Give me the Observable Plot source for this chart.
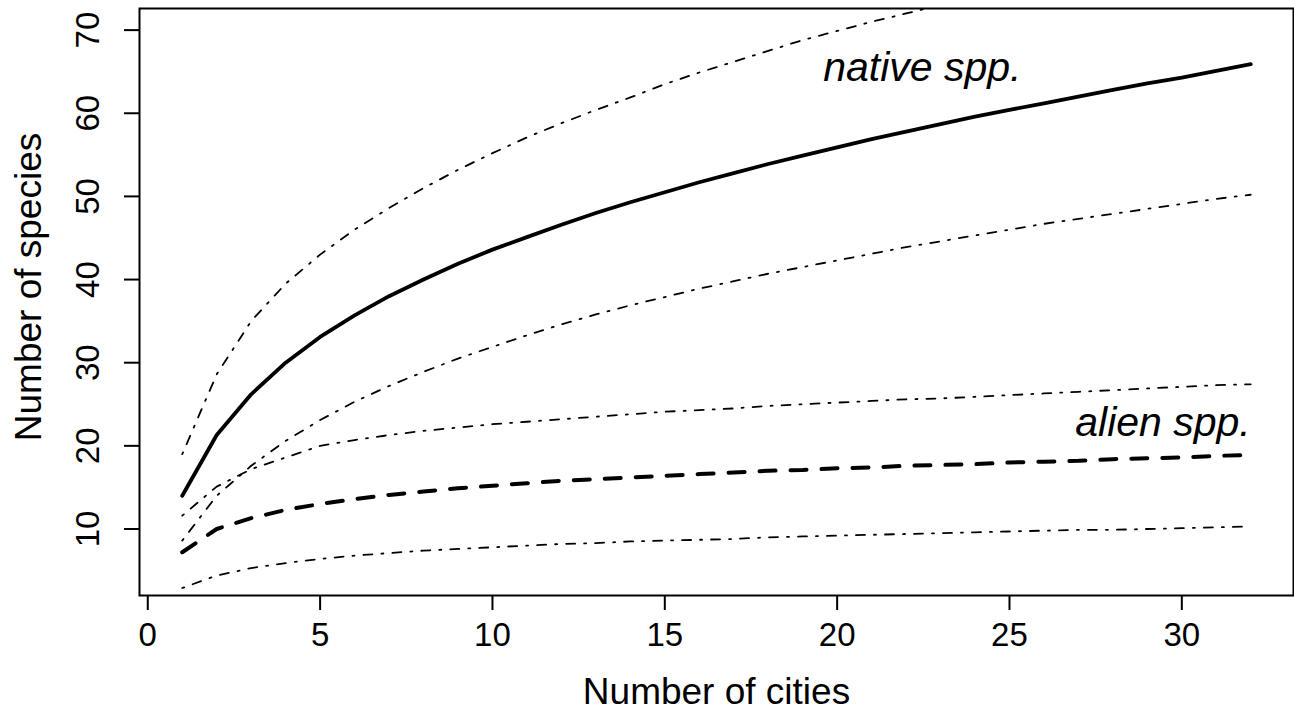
<!DOCTYPE html>
<html>
<head>
<meta charset="utf-8">
<script src="https://cdn.jsdelivr.net/npm/d3@7"></script>
<script src="https://cdn.jsdelivr.net/npm/@observablehq/plot@0.6"></script>
<style>
  html, body { margin: 0; padding: 0; background: #fff; }
  #chart svg { display: block; }
</style>
</head>
<body>
<div id="chart"></div>
<script>
// Number of cities (x)
const cities = [1,2,3,4,5,6,7,8,9,10,11,12,13,14,15,16,17,18,19,20,21,22,23,24,25,26,27,28,29,30,31,32];

// Native species: mean and confidence bounds
const nativeMean  = [14.0,21.3,26.2,30.0,33.1,35.7,38.0,40.0,41.9,43.6,45.1,46.6,48.0,49.3,50.5,51.7,52.8,53.9,54.9,55.9,56.9,57.8,58.7,59.6,60.4,61.2,62.0,62.8,63.6,64.3,65.1,65.9];
const nativeUpper = [19.0,28.6,35.0,39.5,43.0,46.0,48.6,51.0,53.2,55.2,57.1,58.8,60.4,61.9,63.5,64.9,66.2,67.5,68.8,69.9,71.0,72.0,73.0,74.0];
const nativeLower = [8.6,14.0,17.6,20.6,23.1,25.3,27.2,28.9,30.5,31.9,33.3,34.6,35.8,36.9,37.9,38.9,39.8,40.7,41.5,42.3,43.1,43.9,44.6,45.3,46.0,46.7,47.3,47.9,48.5,49.1,49.7,50.2];

// Alien species: mean and confidence bounds
const alienMean  = [7.2,10.0,11.3,12.3,13.0,13.6,14.1,14.5,14.9,15.2,15.5,15.8,16.0,16.2,16.4,16.6,16.8,17.0,17.1,17.3,17.4,17.6,17.7,17.8,18.0,18.1,18.2,18.4,18.5,18.6,18.8,18.9];
const alienUpper = [11.6,15.1,17.2,18.6,20.0,20.7,21.3,21.8,22.2,22.6,22.9,23.2,23.5,23.8,24.1,24.3,24.5,24.8,25.0,25.2,25.4,25.6,25.7,25.9,26.1,26.3,26.5,26.7,26.9,27.1,27.3,27.4];
const alienLower = [2.9,4.4,5.3,5.9,6.4,6.8,7.1,7.4,7.6,7.8,8.0,8.2,8.3,8.5,8.6,8.7,8.8,9.0,9.1,9.2,9.3,9.4,9.5,9.6,9.7,9.8,9.9,9.9,10.0,10.1,10.2,10.3];

// Tick values
const xTicks = [0,5,10,15,20,25,30];
const yTicks = [10,20,30,40,50,60,70];

const toRows = (vals) => vals.map((v, i) => ({x: cities[i], y: v}));

const nativeLabel = [{text: "native spp.", x: 22.47, y: 63.9}];
const alienLabel  = [{text: "alien spp.",  x: 32.0,  y: 21.2}];

const font = "'Liberation Sans', Arial, Helvetica, sans-serif";
const dotdash = "2,9,9,9";
const ciStyle = {x: "x", y: "y", stroke: "black", strokeWidth: 1.8, strokeDasharray: dotdash, strokeLinecap: "round", clip: true};

const chart = Plot.plot({
  width: 1294,
  height: 712,
  marginLeft: 139,
  marginRight: 1,
  marginTop: 8,
  marginBottom: 117,
  style: {fontFamily: font, background: "white", color: "black"},
  x: {domain: [-0.24, 33.24]},
  y: {domain: [2.0, 72.6]},
  marks: [
    Plot.line(toRows(nativeUpper), ciStyle),
    Plot.line(toRows(nativeLower), ciStyle),
    Plot.line(toRows(alienUpper), ciStyle),
    Plot.line(toRows(alienLower), ciStyle),
    Plot.line(toRows(nativeMean), {x: "x", y: "y", stroke: "black", strokeWidth: 3.8, clip: true}),
    Plot.line(toRows(alienMean), {x: "x", y: "y", stroke: "black", strokeWidth: 4, strokeDasharray: "16,15", strokeLinecap: "round", clip: true}),
    Plot.text(nativeLabel, {x: "x", y: "y", text: "text", textAnchor: "middle", lineAnchor: "bottom", fontSize: 41, fontStyle: "italic", fill: "black"}),
    Plot.text(alienLabel, {x: "x", y: "y", text: "text", textAnchor: "end", lineAnchor: "bottom", fontSize: 41, fontStyle: "italic", fill: "black"}),
    Plot.frame({stroke: "black", strokeWidth: 2}),
    Plot.axisX(xTicks, {tickSize: 15, tickPadding: 12, fontSize: 33, label: null, strokeWidth: 2}),
    Plot.axisY(yTicks, {tickSize: 15, tickPadding: 26, tickRotate: -90, fontSize: 33, label: null, strokeWidth: 2}),
    Plot.text(["Number of cities"], {frameAnchor: "bottom", dy: 108, lineAnchor: "bottom", fontSize: 37, fill: "black"}),
    Plot.text(["Number of species"], {frameAnchor: "left", dx: -99, dy: -15, rotate: -90, textAnchor: "middle", lineAnchor: "bottom", fontSize: 37, fill: "black"})
  ]
});

document.getElementById("chart").appendChild(chart);
</script>
</body>
</html>
